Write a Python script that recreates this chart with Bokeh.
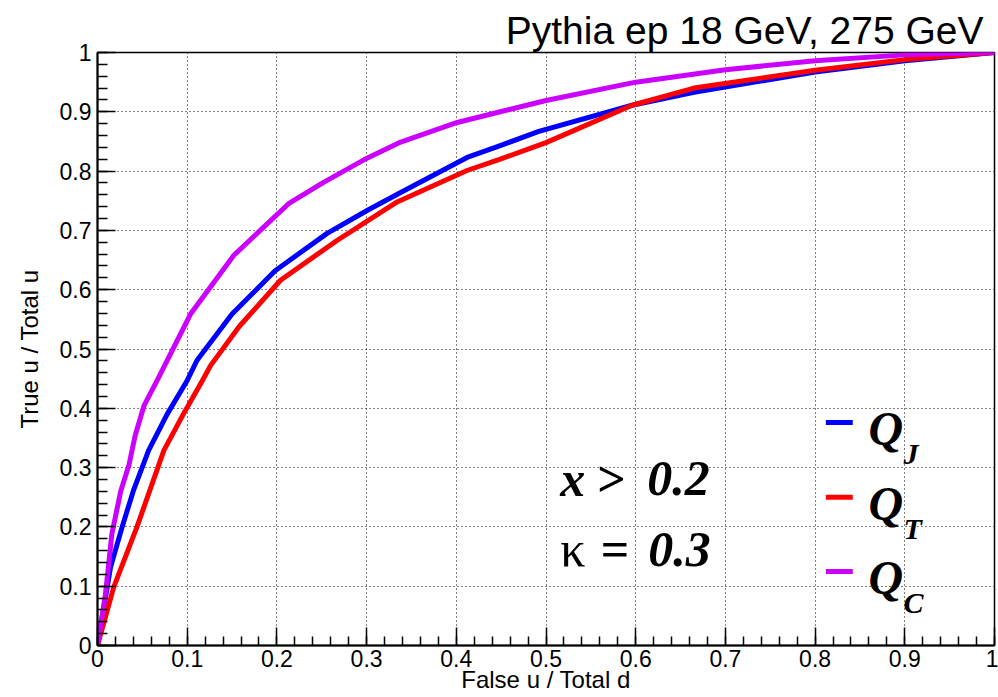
from bokeh.plotting import figure
from bokeh.models import Range1d, FixedTicker
from bokeh.core.properties import value
from bokeh.embed import file_html
from bokeh.resources import INLINE

# ---- data ----
qj_x = [0, 0.0145, 0.0275, 0.040, 0.057, 0.078, 0.100, 0.111, 0.150, 0.198, 0.256,
        0.301, 0.338, 0.412, 0.449, 0.492, 0.596, 0.665, 0.8, 0.9, 1.0]
qj_y = [0, 0.132, 0.200, 0.261, 0.329, 0.391, 0.447, 0.481, 0.559, 0.632, 0.695,
        0.734, 0.764, 0.823, 0.843, 0.867, 0.911, 0.933, 0.967, 0.986, 1.0]

qt_x = [0, 0.018, 0.044, 0.074, 0.096, 0.117, 0.126, 0.158, 0.204, 0.267, 0.334,
        0.412, 0.449, 0.5, 0.596, 0.665, 0.8, 0.9, 1.0]
qt_y = [0, 0.098, 0.200, 0.329, 0.391, 0.447, 0.472, 0.538, 0.616, 0.683, 0.748,
        0.801, 0.820, 0.848, 0.911, 0.940, 0.970, 0.988, 1.0]

qc_x = [0, 0.0089, 0.016, 0.026, 0.035, 0.042, 0.052, 0.0665, 0.1037, 0.152, 0.213,
        0.252, 0.297, 0.338, 0.401, 0.449, 0.5, 0.6, 0.7, 0.8, 0.9, 1.0]
qc_y = [0, 0.087, 0.188, 0.261, 0.304, 0.354, 0.405, 0.447, 0.559, 0.658, 0.745,
        0.781, 0.819, 0.849, 0.882, 0.900, 0.919, 0.950, 0.971, 0.986, 0.996, 1.0]

series_subscripts = ["J", "T", "C"]
series_colors = ["#0000ff", "#ff0000", "#cc00ff"]

major_ticks = [0, 0.1, 0.2, 0.3, 0.4, 0.5, 0.6, 0.7, 0.8, 0.9, 1.0]
tick_labels = ["0", "0.1", "0.2", "0.3", "0.4", "0.5", "0.6", "0.7", "0.8", "0.9", "1"]
minor_ticks = [i / 50 for i in range(51)]

title_text = "Pythia ep 18 GeV, 275 GeV"
x_title = "False u / Total d"
y_title = "True u / Total u"

SANS = "Liberation Sans"
SERIF = "Liberation Serif"

p = figure(width=998, height=697, output_backend="svg", toolbar_location=None,
           x_range=Range1d(0, 1), y_range=Range1d(0, 1),
           min_border_left=97, min_border_right=4, min_border_top=52, min_border_bottom=52,
           title=title_text)
p.background_fill_color = "white"
p.border_fill_color = "white"
p.outline_line_color = "black"
p.outline_line_width = 1.5
p.outline_line_alpha = 1

p.title.align = "right"
p.title.offset = 11
p.title.text_font = SANS
p.title.text_font_style = "normal"
p.title.text_font_size = "39px"
p.title.text_color = "black"
p.title.standoff = 2

for ax in (p.xaxis[0], p.yaxis[0]):
    ax.ticker = FixedTicker(ticks=major_ticks, minor_ticks=minor_ticks)
    ax.major_label_overrides = {t: l for t, l in zip(major_ticks, tick_labels)}
    ax.axis_line_color = "black"
    ax.axis_line_width = 2
    ax.major_tick_line_color = "black"
    ax.minor_tick_line_color = "black"
    ax.major_tick_line_width = 1.5
    ax.minor_tick_line_width = 1.5
    ax.major_tick_out = 0
    ax.minor_tick_out = 0
    ax.major_tick_in = 18
    ax.minor_tick_in = 10
    ax.major_label_text_font = SANS
    ax.major_label_text_font_size = "23px"
    ax.major_label_text_color = "black"
    ax.axis_label_text_font = SANS
    ax.axis_label_text_font_style = "normal"
    ax.axis_label_text_font_size = "24px"
    ax.axis_label_text_color = "black"

p.xaxis.axis_label = x_title
p.yaxis.axis_label = y_title
p.xaxis.major_label_standoff = 4
p.xaxis.axis_label_standoff = -4
p.yaxis.major_label_standoff = 6
p.yaxis.axis_label_standoff = 14
p.xaxis.minor_tick_in = 9

for g in (p.xgrid[0], p.ygrid[0]):
    g.ticker = FixedTicker(ticks=major_ticks[1:-1])
    g.grid_line_color = "black"
    g.grid_line_dash = "1 3"
    g.grid_line_width = 1

curves = [(qj_x, qj_y), (qt_x, qt_y), (qc_x, qc_y)]
for (xs, ys), c in zip(curves, series_colors):
    p.line(xs, ys, line_color=c, line_width=5, line_join="round")


def put(x, y, s, size, style="bold italic"):
    p.text(x=[x], y=[y], text=[s], text_font=value(SERIF), text_font_style=style,
           text_font_size=size, text_baseline="alphabetic", text_align="left",
           text_color="black")


# annotation text
put(0.516, 0.2816, "x", "50px")
put(0.557, 0.2816, ">", "50px", "bold")
put(0.613, 0.2816, "0.2", "50px")
put(0.516, 0.1619, "\u03ba", "50px", "normal")
put(0.561, 0.1619, "=", "50px", "bold")
put(0.614, 0.1619, "0.3", "50px")

# legend
legend_y = [0.376, 0.250, 0.125]
for ly, c, sub in zip(legend_y, series_colors, series_subscripts):
    p.segment(x0=[0.812], x1=[0.842], y0=[ly], y1=[ly], line_color=c, line_width=5)
    put(0.8595, ly - 0.0104, "Q", "48px")
    put(0.8985, ly - 0.053, sub, "30px")

open("out.html", "w").write(file_html(p, INLINE))
